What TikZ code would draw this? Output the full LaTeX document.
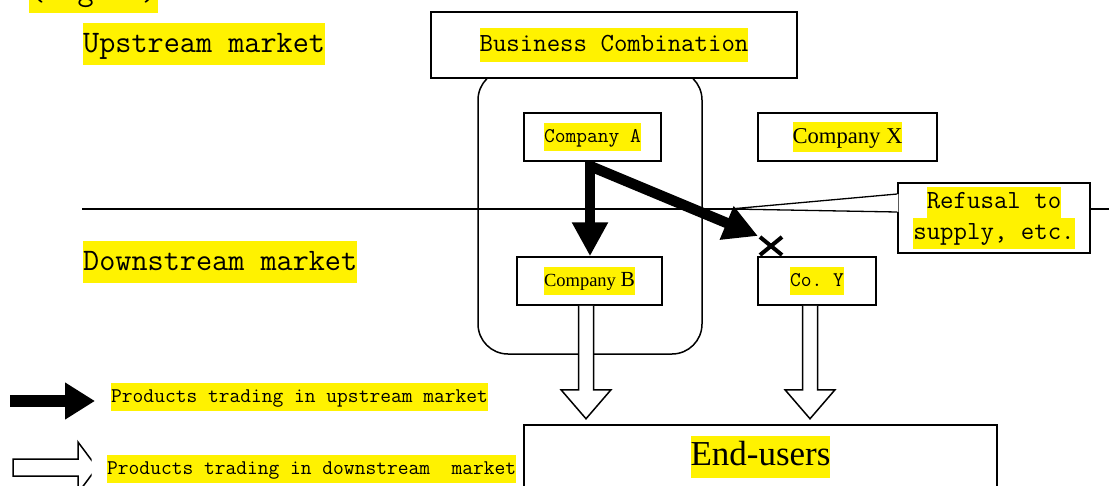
\documentclass[tikz,border=0pt]{standalone}
\usepackage{fontspec}
\usepackage{tikz}
\usetikzlibrary{arrows.meta,calc}

\newfontfamily\labelserif{Liberation Serif}
\newcommand{\sizebig}{\ttfamily\fontsize{31.3}{42}\selectfont}
\newcommand{\sizemid}{\ttfamily\fontsize{26.1}{34}\selectfont}
\newcommand{\sizesmall}{\ttfamily\fontsize{20.9}{28}\selectfont}
\newcommand{\hilite}[1]{{\setlength{\fboxsep}{0pt}\colorbox{yellow}{\strut #1}}}
\frenchspacing

\tikzset{
	box/.style={draw, fill=white, line width=1.5pt, inner sep=0pt},
	upflow/.style={line width=10.5pt, -{Triangle[length=34pt,width=34pt]}},
	hollow/.style={draw, fill=white, line width=1.5pt},
}

\begin{document}
\begin{tikzpicture}[x=1pt, y=-1pt]

	\useasboundingbox (0,0) rectangle (1109,485);

	% market labels
	\node[anchor=west, inner sep=0pt, font=\sizebig] (fig) at (29,-8) {\hilite{(Fig. 2)}};
	\node[anchor=west, inner sep=0pt, font=\sizebig] (up) at (83,44) {\hilite{Upstream market}};
	\node[anchor=west, inner sep=0pt, font=\sizebig] (down) at (83,262) {\hilite{Downstream market}};

	\node[draw, line width=1.5pt, rounded corners=30pt, minimum width=224pt, minimum height=284pt] (group) at (590,212) {};
	\draw[line width=1.3pt] (82,209) -- (1109,209);

	\node[box, minimum width=366pt, minimum height=66pt, font=\sizemid] (combo) at (614,45) {\hilite{Business Combination}};

	\node[box, minimum width=137pt, minimum height=48pt, font=\sizesmall] (compA) at (592.5,137) {\hilite{Company A}};
	\node[box, minimum width=179pt, minimum height=48pt, font=\labelserif\fontsize{22.6}{30}\selectfont] (compX) at (847.5,137) {\hilite{Company X}};
	\node[box, minimum width=145pt, minimum height=48pt, font=\labelserif\fontsize{18.5}{28}\selectfont] (compB) at (589.5,281) {\hilite{Company \fontsize{21.5}{28}\selectfont B}};
	\node[box, minimum width=118pt, minimum height=48pt, font=\sizesmall] (compY) at (817,281) {\hilite{Co. Y}};

	% callout
	\node[box, minimum width=192pt, minimum height=70pt, align=center, font=\ttfamily\fontsize{26.1}{31}\selectfont] (refuse) at (994,218) {\hilite{Refusal to}\\\hilite{supply, etc.}};
	\coordinate (pointer) at (730,209);
	\fill[white] ($(refuse.west)+(1,-24)$) -- (pointer) -- ($(refuse.west)+(1,-6)$) -- cycle;
	\draw[line width=1.3pt] ($(refuse.west)+(0,-24)$) -- (pointer) -- ($(refuse.west)+(0,-6)$);

	% upstream supply
	\coordinate (split) at (590,166);
	\coordinate (cut) at (758,236);
	\draw[upflow] (split |- compA.south) -- (split |- compB.north);
	\draw[upflow] (split) -- (cut);

	\coordinate (block) at (771,246);
	\draw[line width=4pt] ($(block)+(-11,-9)$) -- ($(block)+(11,9)$);
	\draw[line width=4pt] ($(block)+(-11,9)$) -- ($(block)+(11,-9)$);

	% downstream supply
	\draw[hollow] ($(compB.south)+(-11,0)$) -- ++(0,84) -- ++(-17.5,0) -- ++(25,29) -- ++(25,-29) -- ++(-17.5,0) -- ++(0,-84);
	\draw[hollow] ($(compY.south)+(-14.5,0)$) -- ++(0,84) -- ++(-17.5,0) -- ++(25,29) -- ++(25,-29) -- ++(-17.5,0) -- ++(0,-84);

	\node[draw, line width=2.2pt, minimum width=473pt, minimum height=64pt, inner sep=0pt, font=\labelserif\fontsize{35}{42}\selectfont] (users) at (760.5,457) {\hilite{End-users}};

	% legend
	\coordinate (legA) at (10,401);
	\coordinate (legB) at (95,401);
	\draw[line width=12pt, -{Triangle[length=30pt,width=35pt]}] (legA) -- (legB);
	\node[anchor=west, inner sep=0pt, font=\sizesmall] (legup) at (111,397) {\hilite{Products trading in upstream market}};

	\begin{scope}
		\clip (0,430) rectangle (91.5,485);
		\draw[hollow] (13,459) -- (78,459) -- (78,442) -- (97,467.5) -- (78,493) -- (78,476) -- (13,476) -- cycle;
	\end{scope}
	\node[anchor=west, inner sep=0pt, font=\sizesmall] (legdown) at (107,469) {\hilite{Products trading in downstream\ \ market}};

\end{tikzpicture}
\end{document}
